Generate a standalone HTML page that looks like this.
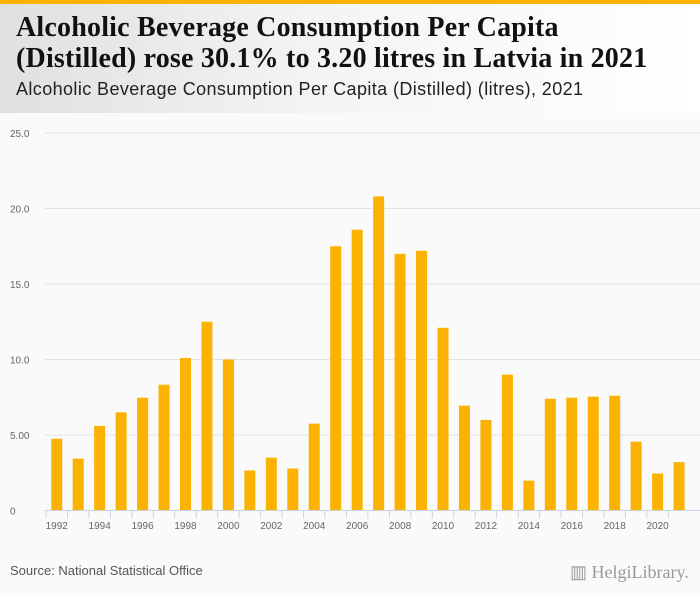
<!DOCTYPE html>
<html><head><meta charset="utf-8"><style>
body{margin:0;width:700px;height:596px;overflow:hidden;background:#fafafa;font-family:"Liberation Sans",sans-serif;position:relative}
#hdr{position:absolute;left:0;top:0;width:700px;height:113px;background:linear-gradient(90deg,#e0e0e0 0%,#f4f4f4 45%,#ffffff 100%)}
#bar{position:absolute;left:0;top:0;width:700px;height:4px;background:#fbb200}
h1{position:absolute;left:16px;top:12px;margin:0;font-family:"Liberation Serif",serif;font-weight:bold;font-size:28px;line-height:31px;color:#111;letter-spacing:0.2px;white-space:nowrap}
#sub{position:absolute;left:16px;top:79px;font-size:18px;color:#222;letter-spacing:0.4px;white-space:nowrap}
#src{position:absolute;left:10px;top:563px;font-size:13px;color:#555}
#logo{position:absolute;left:570px;top:562px;font-family:"Liberation Serif",serif;font-size:18px;color:#999}
</style></head><body>
<div id="hdr"></div>
<div id="bar"></div>
<h1>Alcoholic Beverage Consumption Per Capita<br>(Distilled) rose 30.1% to 3.20 litres in Latvia in 2021</h1>
<div id="sub">Alcoholic Beverage Consumption Per Capita (Distilled) (litres), 2021</div>
<svg id="chart" width="700" height="596" style="position:absolute;left:0;top:0"></svg>
<div id="src">Source: National Statistical Office</div>
<div id="logo">▥ HelgiLibrary.</div>
<script>
const years=[1992,1993,1994,1995,1996,1997,1998,1999,2000,2001,2002,2003,2004,2005,2006,2007,2008,2009,2010,2011,2012,2013,2014,2015,2016,2017,2018,2019,2020,2021];
const values=[4.75,3.44,5.6,6.5,7.47,8.33,10.1,12.5,10.0,2.65,3.5,2.78,5.75,17.5,18.6,20.8,17.0,17.2,12.1,6.94,6.0,9.0,1.98,7.4,7.47,7.54,7.6,4.56,2.45,3.2];
const yTicks=[0,5,10,15,20,25];
const yTickLabels=["0","5.00","10.0","15.0","20.0","25.0"];
const NS="http://www.w3.org/2000/svg";
const svg=document.getElementById('chart');
const y0=510.5,yTop=133,x0=46,step=21.46;
const y=v=>y0-(v/25)*(y0-yTop);
const xc=i=>x0+step*(i+0.5);
function mk(t,a){const e=document.createElementNS(NS,t);for(const k in a)e.setAttribute(k,a[k]);svg.appendChild(e);return e;}
yTicks.forEach((t,i)=>{
  if(t>0){const l=mk('line',{x1:45,x2:700,y1:y(t),y2:y(t),stroke:'#e4e4e4','stroke-width':1});
  
  }
  const tx=mk('text',{x:10,y:y(t)+4,'font-size':10,fill:'#666','font-family':'Liberation Sans,sans-serif'});
  tx.textContent=yTickLabels[i];
  
  
});
values.forEach((v,i)=>{
  const r=mk('rect',{x:xc(i)-5.5,y:y(v),width:11,height:y0-y(v),fill:'#fbb200'});
  
  
});
const ax=mk('line',{x1:45,x2:700,y1:y0,y2:y0,stroke:'#c8d4e6','stroke-width':1});


years.forEach((yr,i)=>{
  const tk=mk('line',{x1:x0+step*i,x2:x0+step*i,y1:y0,y2:y0+8,stroke:'#c8d4e6','stroke-width':1});
  
  
  if(i%2===0){
    const tx=mk('text',{x:xc(i),y:529,'font-size':10,fill:'#666','text-anchor':'middle','font-family':'Liberation Sans,sans-serif'});
    tx.textContent=yr;
    
    
  }
});
</script>
</body></html>
